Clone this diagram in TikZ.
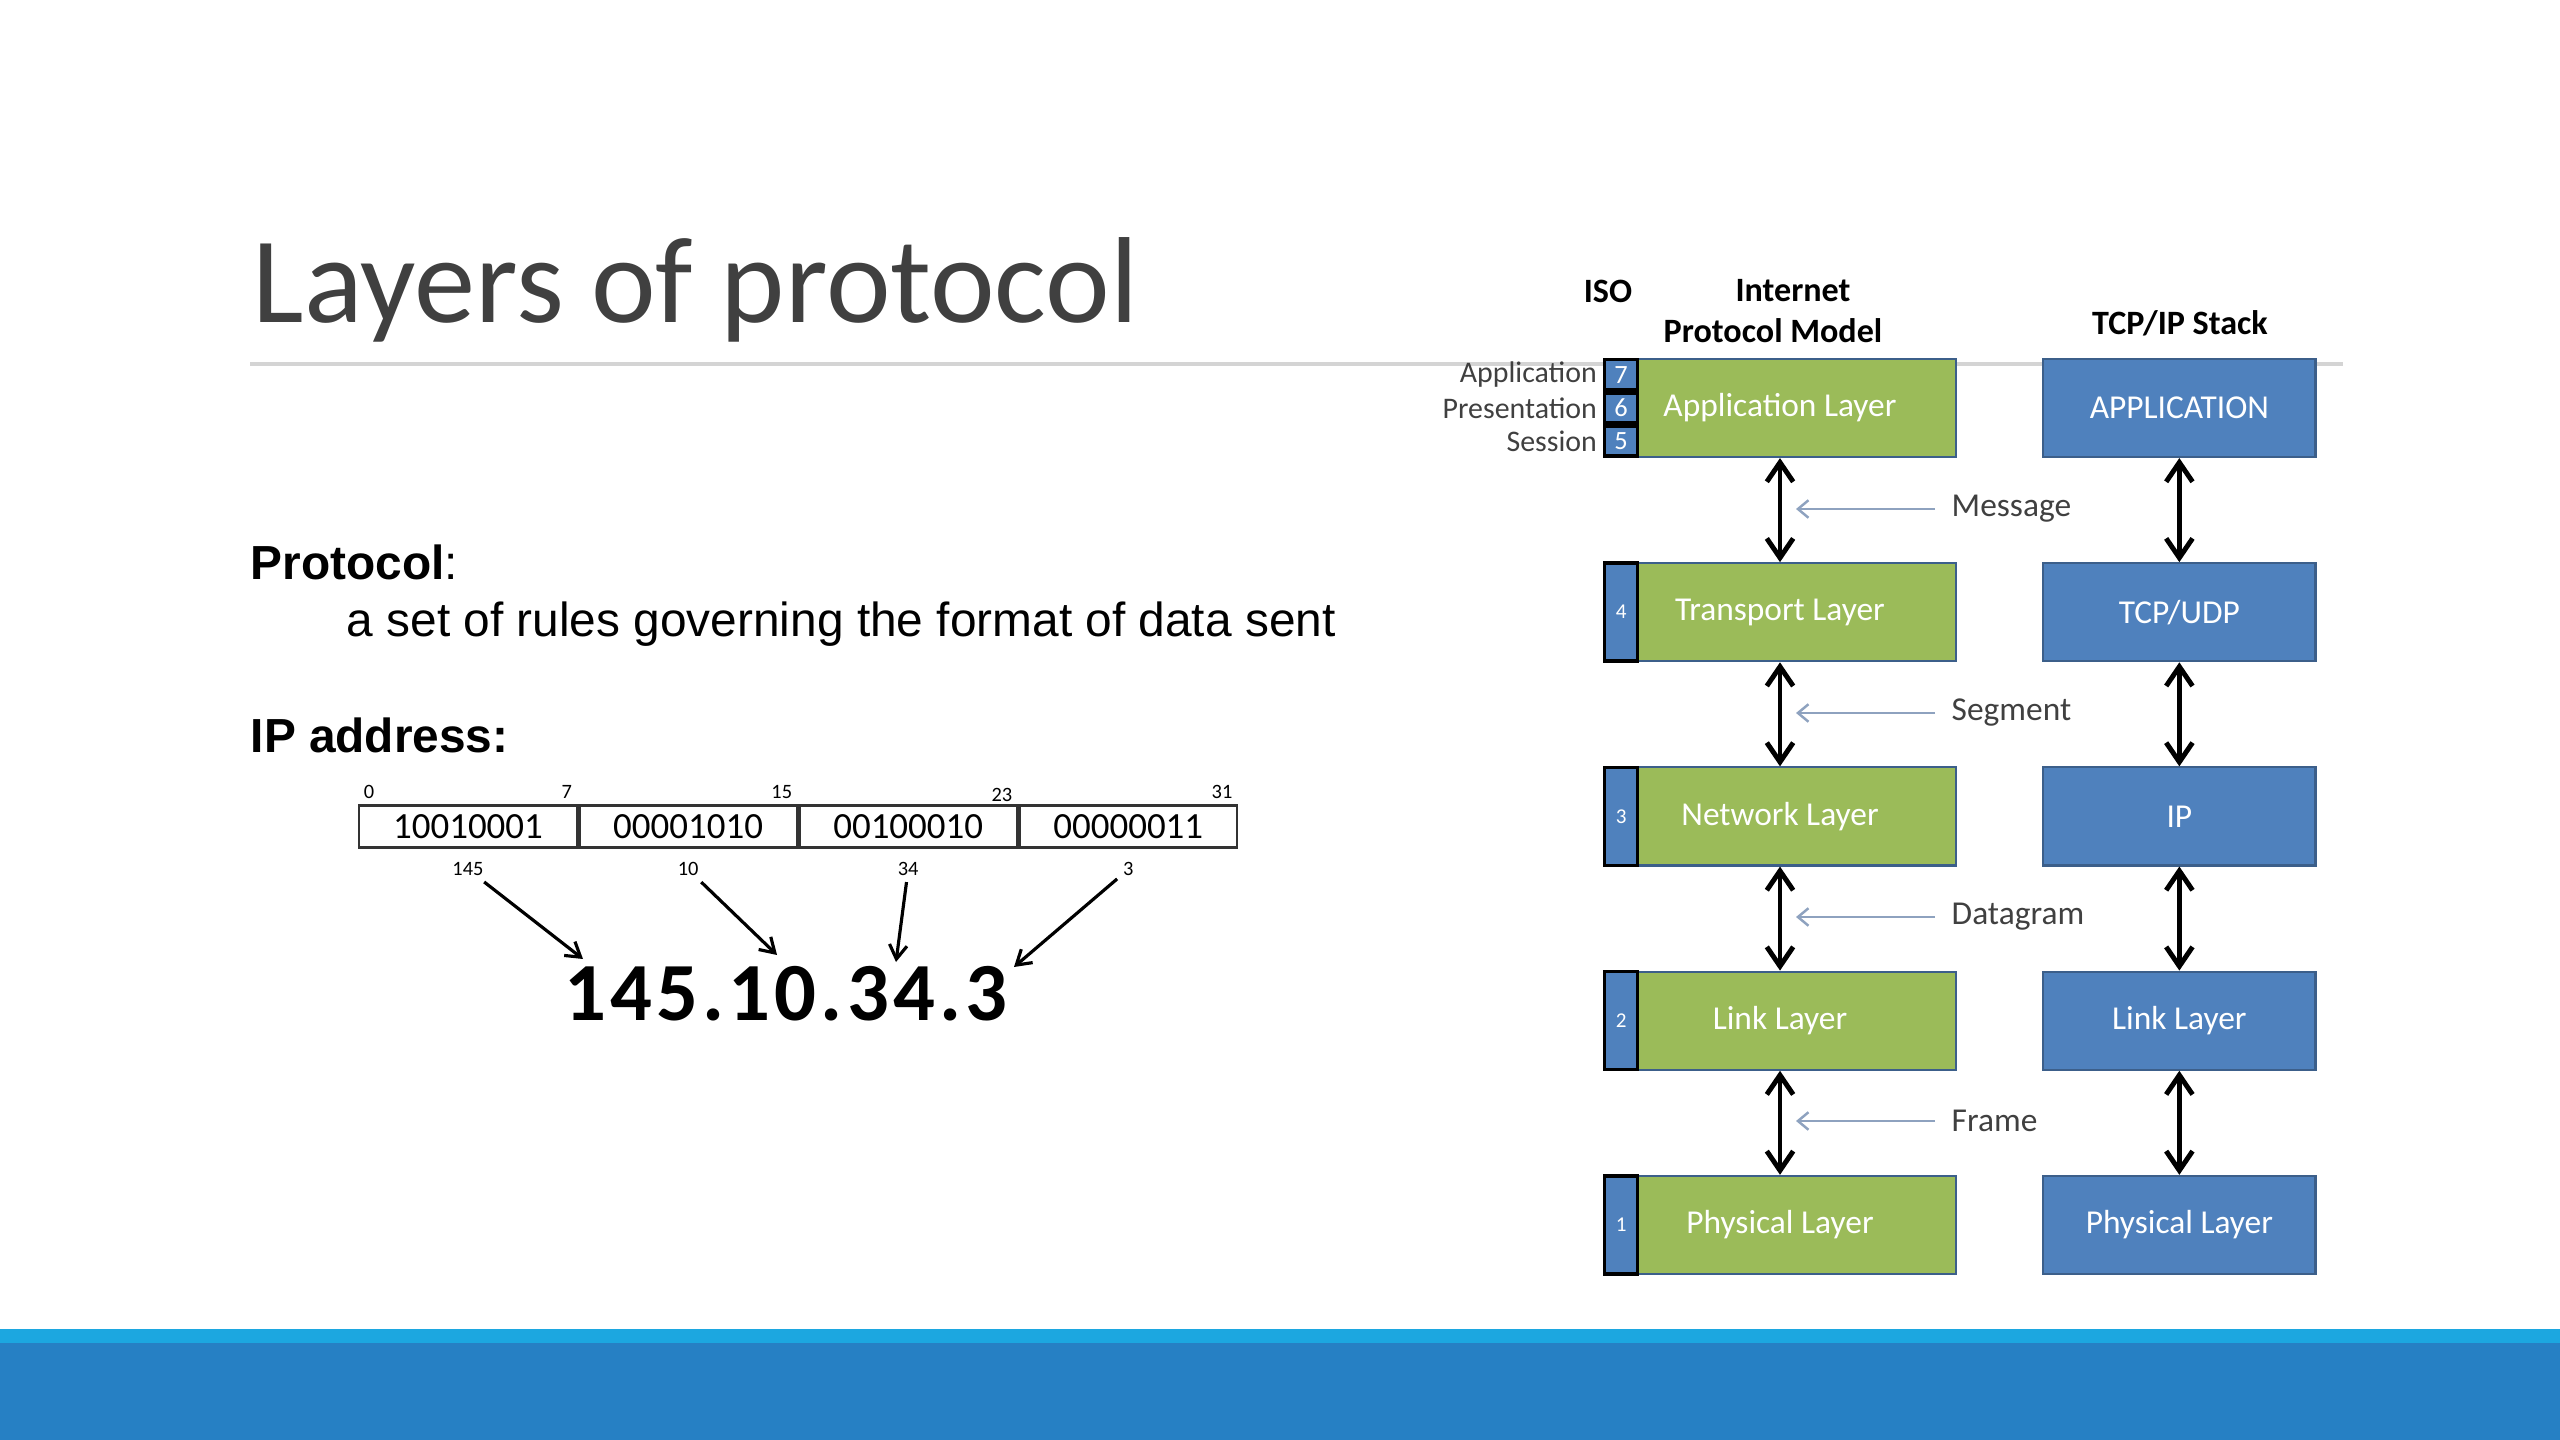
\documentclass[tikz,border=0pt]{standalone}
\usepackage{fontspec}
\setmainfont{Carlito}
\newfontfamily\arialfont{Liberation Sans}
\newfontfamily\ipfont{Carlito}[LetterSpace=5]
\usetikzlibrary{arrows.meta,positioning}
\definecolor{isogreen}{HTML}{9BBB59}
\definecolor{stackblue}{HTML}{4F81BD}
\definecolor{boxedge}{HTML}{3C5F8A}
\definecolor{titlegray}{HTML}{404040}
\definecolor{rulegray}{HTML}{D4D4D4}
\definecolor{pduarrow}{HTML}{8EA2BF}
\definecolor{barlight}{HTML}{1CA7E0}
\definecolor{bardark}{HTML}{2680C4}

\begin{document}
\begin{tikzpicture}[x=0.01cm,y=-0.01cm,
    layer/.style={draw=boxedge,line width=0.6pt,fill=isogreen,text=white,
      minimum width=3.52cm,minimum height=0.98cm,font=\fontsize{9.5}{11}\selectfont},
    stack/.style={layer,fill=stackblue,minimum width=2.72cm},
    isonum/.style={draw=black,line width=1pt,fill=stackblue,text=white,inner sep=0pt,
      minimum width=0.33cm,font=\fontsize{6}{7}\selectfont},
    updown/.style={{Straight Barb[length=5.5pt,width=7.5pt]}-{Straight Barb[length=5.5pt,width=7.5pt]},line width=1.4pt},
    pdu/.style={-{Straight Barb[length=3pt,width=5pt]},pduarrow,line width=0.7pt},
    pdulabel/.style={anchor=west,inner ysep=0pt,inner xsep=0.16cm,text=titlegray,font=\fontsize{9.5}{11}\selectfont},
    head/.style={font=\bfseries\fontsize{9.7}{11.4}\selectfont},
    isoname/.style={anchor=east,inner sep=1.5pt,text=titlegray,font=\fontsize{8.5}{10}\selectfont},
    bitbox/.style={draw=black!80,line width=0.7pt,inner sep=0pt,
      minimum width=2.175cm,minimum height=0.42cm,font=\fontsize{10.5}{12}\selectfont},
    bitpos/.style={inner sep=1.5pt,font=\fontsize{5.8}{7}\selectfont},
    octarrow/.style={-{Straight Barb[length=4pt,width=5pt]},line width=0.9pt},
    slide/.style={anchor=base west,inner sep=0pt,font=\arialfont\fontsize{13.6}{16}\selectfont}]
  \useasboundingbox (0,0) rectangle (2560,1440);

  % slide frame
  \draw[rulegray,line width=1pt] (250,364) -- (2343,364);
  \fill[barlight] (0,1329) rectangle (2560,1343);
  \fill[bardark] (0,1343) rectangle (2560,1440);
  \node[anchor=base west,inner sep=0pt,text=titlegray,font=\fontsize{34.8}{40}\selectfont]
    (title) at (252,323) {Layers of protocol};

  % left text
  \node[slide] (proto) at (250,580) {\textbf{Protocol}:};
  \node[slide] (protodef) at (346,637) {a set of rules governing the format of data sent};
  \node[slide] (iplabel) at (250,753) {\textbf{IP address:}};

  % 32 bit address
  \node[bitbox] (b1) at (468,826.5) {10010001};
  \node[bitbox,right=0pt of b1] (b2) {00001010};
  \node[bitbox,right=0pt of b2] (b3) {00100010};
  \node[bitbox,right=0pt of b3] (b4) {00000011};
  \node[bitpos,anchor=south west] (p0) at (b1.north west) {0};
  \node[bitpos,anchor=south east] (p7) at (b1.north east) {7};
  \node[bitpos,anchor=south east] (p15) at (b2.north east) {15};
  \node[bitpos,anchor=south east] (p23) at ([yshift=-1pt]b3.north east) {23};
  \node[bitpos,anchor=south east] (p31) at (b4.north east) {31};
  \node[bitpos,below=0.08cm of b1] (d1) {145};
  \node[bitpos,below=0.08cm of b2] (d2) {10};
  \node[bitpos,below=0.08cm of b3] (d3) {34};
  \node[bitpos,below=0.08cm of b4] (d4) {3};
  \node[anchor=base,inner sep=0pt,font=\ipfont\bfseries\fontsize{23.5}{27}\selectfont]
    (ipnum) at (786,1021) {145.10.34.3};
  \coordinate (t1) at (583,959);
  \coordinate (t2) at (777,955);
  \coordinate (t3) at (896,962);
  \coordinate (t4) at (1014,967);
  \draw[octarrow] (d1) -- (t1);
  \draw[octarrow] (d2) -- (t2);
  \draw[octarrow] (d3) -- (t3);
  \draw[octarrow] (d4) -- (t4);

  % internet protocol model
  \node[layer] (app) at (1780,408) {Application Layer};
  \node[layer,below=1.04cm of app] (trans) {Transport Layer};
  \node[layer,below=1.04cm of trans] (net) {Network Layer};
  \node[layer,below=1.04cm of net] (link) {Link Layer};
  \node[layer,below=1.04cm of link] (phys) {Physical Layer};
  \node[isonum,minimum height=0.298cm,font=\fontsize{7.5}{8}\selectfont,anchor=north west] (n7) at (app.north west) {7};
  \node[isonum,minimum height=0.298cm,font=\fontsize{7.5}{8}\selectfont,below=0pt of n7] (n6) {6};
  \node[isonum,minimum height=0.298cm,font=\fontsize{7.5}{8}\selectfont,below=0pt of n6] (n5) {5};
  \node[isonum,minimum height=0.98cm,anchor=west] (n4) at (trans.west) {4};
  \node[isonum,minimum height=0.98cm,anchor=west] (n3) at (net.west) {3};
  \node[isonum,minimum height=0.98cm,anchor=west] (n2) at (link.west) {2};
  \node[isonum,minimum height=0.98cm,anchor=west] (n1) at (phys.west) {1};
  \node[isoname] (isoapp) at (n7.west) {Application};
  \node[isoname] (isopres) at (n6.west) {Presentation};
  \node[isoname] (isosess) at (n5.west) {Session};

  % tcp/ip stack
  \node[stack,right=0.85cm of app] (tapp) {APPLICATION};
  \node[stack,below=1.04cm of tapp] (ttrans) {TCP/UDP};
  \node[stack,below=1.04cm of ttrans] (tnet) {IP};
  \node[stack,below=1.04cm of tnet] (tlink) {Link Layer};
  \node[stack,below=1.04cm of tlink] (tphys) {Physical Layer};

  \node[head] (iso) at (1608,291) {ISO};
  \node[head] (inet) at (1793,291) {Internet};
  \node[head] (ipm) at (1773,331) {Protocol Model};
  \node[head] (tcpip) at (2180,323) {TCP/IP Stack};

  \draw[updown] (app) -- (trans);
  \draw[updown] (trans) -- (net);
  \draw[updown] (net) -- (link);
  \draw[updown] (link) -- (phys);
  \draw[updown] (tapp) -- (ttrans);
  \draw[updown] (ttrans) -- (tnet);
  \draw[updown] (tnet) -- (tlink);
  \draw[updown] (tlink) -- (tphys);

  \node[pdulabel] (msg) at (1935,509) {Message};
  \node[pdulabel] (seg) at (1935,713) {Segment};
  \node[pdulabel] (dgram) at (1935,917) {Datagram};
  \node[pdulabel] (frame) at (1935,1121) {Frame};
  \draw[pdu] (msg.west) -- ++(-139,0);
  \draw[pdu] (seg.west) -- ++(-139,0);
  \draw[pdu] (dgram.west) -- ++(-139,0);
  \draw[pdu] (frame.west) -- ++(-139,0);
\end{tikzpicture}
\end{document}
